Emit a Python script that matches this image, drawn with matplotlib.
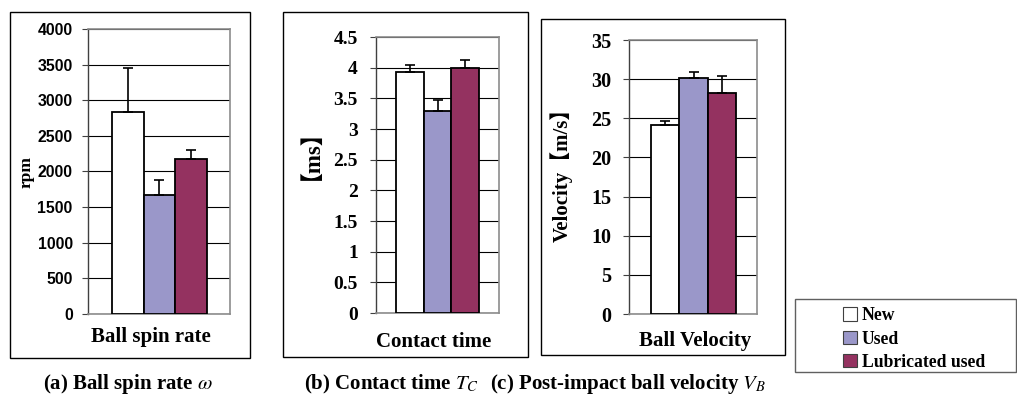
import matplotlib
matplotlib.use("Agg")
import matplotlib.pyplot as plt
from matplotlib.patches import Rectangle, Patch

plt.rcParams['mathtext.fontset'] = 'stix'

series = ["New", "Used", "Lubricated used"]
colors = ["#ffffff", "#9a97c9", "#943260"]

spin_mean = [2830, 1670, 2170]
spin_err = [620, 210, 130]
spin_ticks = [0, 500, 1000, 1500, 2000, 2500, 3000, 3500, 4000]

contact_mean = [3.93, 3.30, 4.00]
contact_err = [0.12, 0.17, 0.12]
contact_ticks = [0, 0.5, 1, 1.5, 2, 2.5, 3, 3.5, 4, 4.5]

vel_mean = [24.1, 30.2, 28.2]
vel_err = [0.5, 0.7, 2.2]
vel_ticks = [0, 5, 10, 15, 20, 25, 30, 35]

W, H = 1017, 396
fig = plt.figure(figsize=(W / 100, H / 100), dpi=100)
SERIF_CJK = ["Liberation Serif", "Noto Sans CJK JP"]


def fx(x):
    return x / W


def fy(y):
    return 1 - y / H


def px_axes(x0, y0, x1, y1):
    return fig.add_axes([x0 / W, 1 - y1 / H, (x1 - x0) / W, (y1 - y0) / H])


def frame(x0, y0, x1, y1, color="black", lw=1.0):
    fig.patches.append(Rectangle((x0 / W, 1 - y1 / H), (x1 - x0) / W, (y1 - y0) / H,
                                 transform=fig.transFigure, fill=False,
                                 edgecolor=color, linewidth=lw, zorder=0))


def panel(ax, means, errs, ticks, xlim, tickfont, ticksize, ticklabels, pad,
          xlabel, xlab_pos):
    xs = list(range(len(means)))
    ax.bar(xs, means, width=1.0, color=colors, edgecolor="black", linewidth=1.3, zorder=3)
    ax.errorbar(xs, means, yerr=[[0] * len(errs), errs], fmt="none", ecolor="black",
                elinewidth=1.2, capsize=3.5, capthick=1.2, zorder=4)
    ax.set_xlim(*xlim)
    ax.set_ylim(ticks[0], ticks[-1])
    ax.set_yticks(ticks)
    ax.set_yticklabels(ticklabels, fontfamily=tickfont, fontweight="bold", fontsize=ticksize)
    ax.set_xticks([])
    ax.yaxis.grid(True, color="black", linewidth=0.8, zorder=0)
    ax.tick_params(axis="y", length=4, width=0.8, color="#404040", pad=pad)
    for s in ["top", "right", "bottom"]:
        ax.spines[s].set_color("#8c8c8c")
        ax.spines[s].set_linewidth(1.2)
    ax.spines["left"].set_color("#404040")
    ax.spines["left"].set_linewidth(1.0)
    ax.set_xlabel(xlabel, fontfamily="Liberation Serif", fontweight="bold", fontsize=15,
                  va="center")
    ax.xaxis.set_label_coords(fx(xlab_pos[0]), fy(xlab_pos[1]), transform=fig.transFigure)


# outer frames
frame(10, 12, 250, 358)
frame(283, 12, 528, 357)
frame(541, 19, 785, 355)

# (a)
axa = px_axes(88, 29, 230, 314)
panel(axa, spin_mean, spin_err, spin_ticks, (-1.26, 3.23), "Liberation Sans", 11.4,
      [str(t) for t in spin_ticks], 7, "Ball spin rate", (151, 337))
axa.set_ylabel("rpm", fontfamily="Liberation Serif", fontweight="bold", fontsize=12.5,
               va="center")
axa.yaxis.set_label_coords(fx(27), fy(172), transform=fig.transFigure)

# (b)
axb = px_axes(376, 37, 499, 313)
panel(axb, contact_mean, contact_err, contact_ticks, (-1.22, 3.22), "Liberation Serif", 14,
      [f"{t:g}" for t in contact_ticks], 9, "Contact time", (434, 342))
axb.set_ylabel("【ms】", fontfamily=SERIF_CJK, fontweight="bold", fontsize=16.5, va="center")
axb.yaxis.set_label_coords(fx(300), fy(143), transform=fig.transFigure)

# (c)
axc = px_axes(629, 40, 757, 314)
panel(axc, vel_mean, vel_err, vel_ticks, (-1.28, 3.24), "Liberation Serif", 14.5,
      [str(t) for t in vel_ticks], 8.5, "Ball Velocity", (695, 341))
axc.set_ylabel("Velocity【m/s】", fontfamily=SERIF_CJK, fontweight="bold", fontsize=15,
               va="center")
axc.yaxis.set_label_coords(fx(561), fy(170), transform=fig.transFigure)

# captions
cap_kw = dict(fontfamily="Liberation Serif", fontweight="bold", fontsize=15,
              ha="center", va="center")
fig.text(fx(128), fy(384), r"(a) Ball spin rate $\omega$", **cap_kw)
fig.text(fx(391), fy(384), r"(b) Contact time $T_C$", **cap_kw)
fig.text(fx(628), fy(384), r"(c) Post-impact ball velocity $V_B$", **cap_kw)

# legend
frame(795, 299, 1016, 372, color="#606060", lw=1.0)
handles = [Patch(facecolor=c, edgecolor="#404040", linewidth=0.8) for c in colors]
leg = fig.legend(handles, series, loc="center left",
                 bbox_to_anchor=(fx(843), fy(339)), frameon=False,
                 prop={"family": "Liberation Serif", "weight": "bold", "size": 12.7},
                 handlelength=0.8, handleheight=0.8, handletextpad=0.25,
                 labelspacing=0.35, borderpad=0, borderaxespad=0)

fig.savefig("out.png", dpi=100)
